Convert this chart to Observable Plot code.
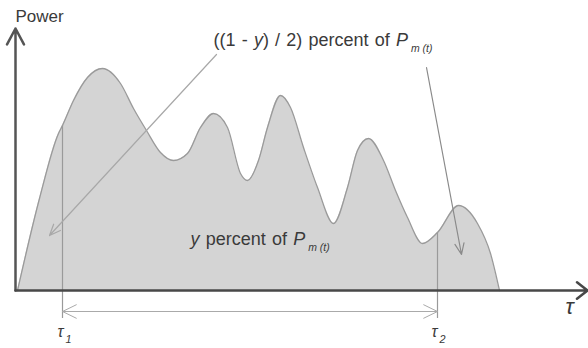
<!DOCTYPE html>
<html><head><meta charset="utf-8">
<script src="https://cdn.jsdelivr.net/npm/d3@7"></script>
<script src="https://cdn.jsdelivr.net/npm/@observablehq/plot@0.6"></script>
<style>body{margin:0;background:#fff;}</style>
</head><body><div id="chart"></div>
<script>
// Power curve P(τ) (τ and power in arbitrary units)
const tau   = [2, 24, 43, 47, 58, 72, 87, 105, 118, 131, 145, 158, 172, 185, 198, 212, 225, 232, 243, 252, 265, 275, 288, 302, 318, 332, 342, 353, 368, 380, 392, 407, 422, 443, 462, 475, 484];
const power = [0, 92, 157, 165, 190, 213, 222, 207, 182, 160, 138, 130, 137, 163, 177, 163, 117, 110, 130, 163, 195, 183, 143, 103, 67, 103, 140, 152, 130, 100, 73, 47, 58, 85, 67, 37, 0];

// interval markers τ1, τ2 and the curve height there
const markerTau = [47, 422];
const markerTop = [165, 58];
const markerBottom = -28;
const spanPower = -21;

// axis ends
const axisTauEnd = 572;
const axisPowerEnd = 262;

// annotation arrows (from text to region)
const annFromTau = [201, 411], annFromPower = [236, 223];
const annToTau = [34, 446], annToPower = [55, 36];

// labels (markup: *italic*, _subscript at end)
const mainText  = ["Power"];
const mainTau   = [0];
const mainPower = [274];
const annText   = ["((1 - *y*) / 2) percent of *P*_m (t)", "*y* percent of *P*_m (t)"];
const annTau    = [198, 175];
const annPower  = [250, 51];
const tauText   = ["*τ*", "*τ*_1", "*τ*_2"];
const tauTau    = [550, 42, 416];
const tauPower  = [-16, -41, -41];

function parse(s) {
  let sub = null;
  const k = s.indexOf("_");
  if (k >= 0) { sub = s.slice(k + 1); s = s.slice(0, k); }
  const parts = s.split("*").map((t, i) => ({t, italic: i % 2 === 1})).filter(p => p.t.length);
  return {parts, sub};
}
const plain = s => { const p = parse(s); return p.parts.map(d => d.t).join("") + (p.sub || ""); };
const markup = new Map([...mainText, ...annText, ...tauText].map(s => [plain(s), s]));

const curve = tau.map((t, i) => ({tau: t, power: power[i]}));
const markers = markerTau.map((t, i) => ({tau: t, top: markerTop[i]}));
const spanMid = (markerTau[0] + markerTau[1]) / 2;
const spanArrows = markerTau.map(t => ({x1: spanMid, x2: t}));
const annArrows = annFromTau.map((t, i) => ({x1: t, y1: annFromPower[i], x2: annToTau[i], y2: annToPower[i]}));

const textColor = "#3a3a3a";
const svg = Plot.plot({
  width: 588, height: 348,
  marginLeft: 15, marginRight: 0, marginTop: 0, marginBottom: 58,
  x: {domain: [0, 573], axis: null},
  y: {domain: [0, 290], axis: null},
  style: {fontFamily: "'Liberation Sans', Arial, sans-serif", background: "#fff", color: textColor},
  marks: [
    Plot.areaY(curve, {x: "tau", y: "power", curve: "monotone-x", fill: "#d4d4d4"}),
    Plot.lineY(curve, {x: "tau", y: "power", curve: "monotone-x", stroke: "#9a9a9a", strokeWidth: 1.3}),
    Plot.ruleX(markers, {x: "tau", y1: "top", y2: markerBottom, stroke: "#9a9a9a", strokeWidth: 1.2}),
    Plot.arrow(spanArrows, {x1: "x1", x2: "x2", y1: spanPower, y2: spanPower, stroke: "#aaaaaa", strokeWidth: 1, headLength: 23, headAngle: 52}),
    Plot.arrow(annArrows.slice(0, 1), {x1: "x1", y1: "y1", x2: "x2", y2: "y2", stroke: "#a8a8a8", strokeWidth: 1.2, headLength: 15, headAngle: 45}),
    Plot.arrow(annArrows.slice(1), {x1: "x1", y1: "y1", x2: "x2", y2: "y2", stroke: "#8a8a8a", strokeWidth: 1.2, headLength: 15, headAngle: 45}),
    Plot.arrow([0], {x1: 0, y1: 0, x2: 0, y2: axisPowerEnd, stroke: "#555", strokeWidth: 2.5, headLength: 10.8, headAngle: 56}),
    Plot.arrow([0], {x1: 0, y1: 0, x2: axisTauEnd, y2: 0, stroke: "#484848", strokeWidth: 2.5, headLength: 8, headAngle: 76}),
    Plot.text(mainText, {x: (d, i) => mainTau[i], y: (d, i) => mainPower[i], text: d => plain(d), textAnchor: "start", fontSize: 17, fill: textColor}),
    Plot.text(annText, {x: (d, i) => annTau[i], y: (d, i) => annPower[i], text: d => plain(d), textAnchor: "start", fontSize: 18, fill: textColor}),
    Plot.text(tauText.slice(0, 1), {x: (d, i) => tauTau[i], y: (d, i) => tauPower[i], text: d => plain(d), textAnchor: "start", fontSize: 22, fill: textColor}),
    Plot.text(tauText.slice(1), {x: (d, i) => tauTau[i + 1], y: (d, i) => tauPower[i + 1], text: d => plain(d), textAnchor: "start", fontSize: 16, fill: textColor})
  ]
});

d3.select(svg).selectAll("text").each(function () {
  const el = d3.select(this);
  const src = markup.get(this.textContent);
  if (!src) return;
  const p = parse(src);
  const isAnn = annText.includes(src);
  if (isAnn) el.style("word-spacing", "1.2px");
  el.text(null);
  p.parts.forEach(d => {
    const ts = el.append("tspan").text(d.t);
    if (d.italic) ts.attr("font-style", "italic");
  });
  if (p.sub) {
    el.append("tspan").text(p.sub).attr("font-style", "italic")
      .attr("font-size", isAnn ? "0.58em" : "0.68em")
      .attr("dx", isAnn ? 3 : 2).attr("dy", 6).style("word-spacing", "0px");
  }
});

document.getElementById("chart").appendChild(svg);
</script>
</body></html>
